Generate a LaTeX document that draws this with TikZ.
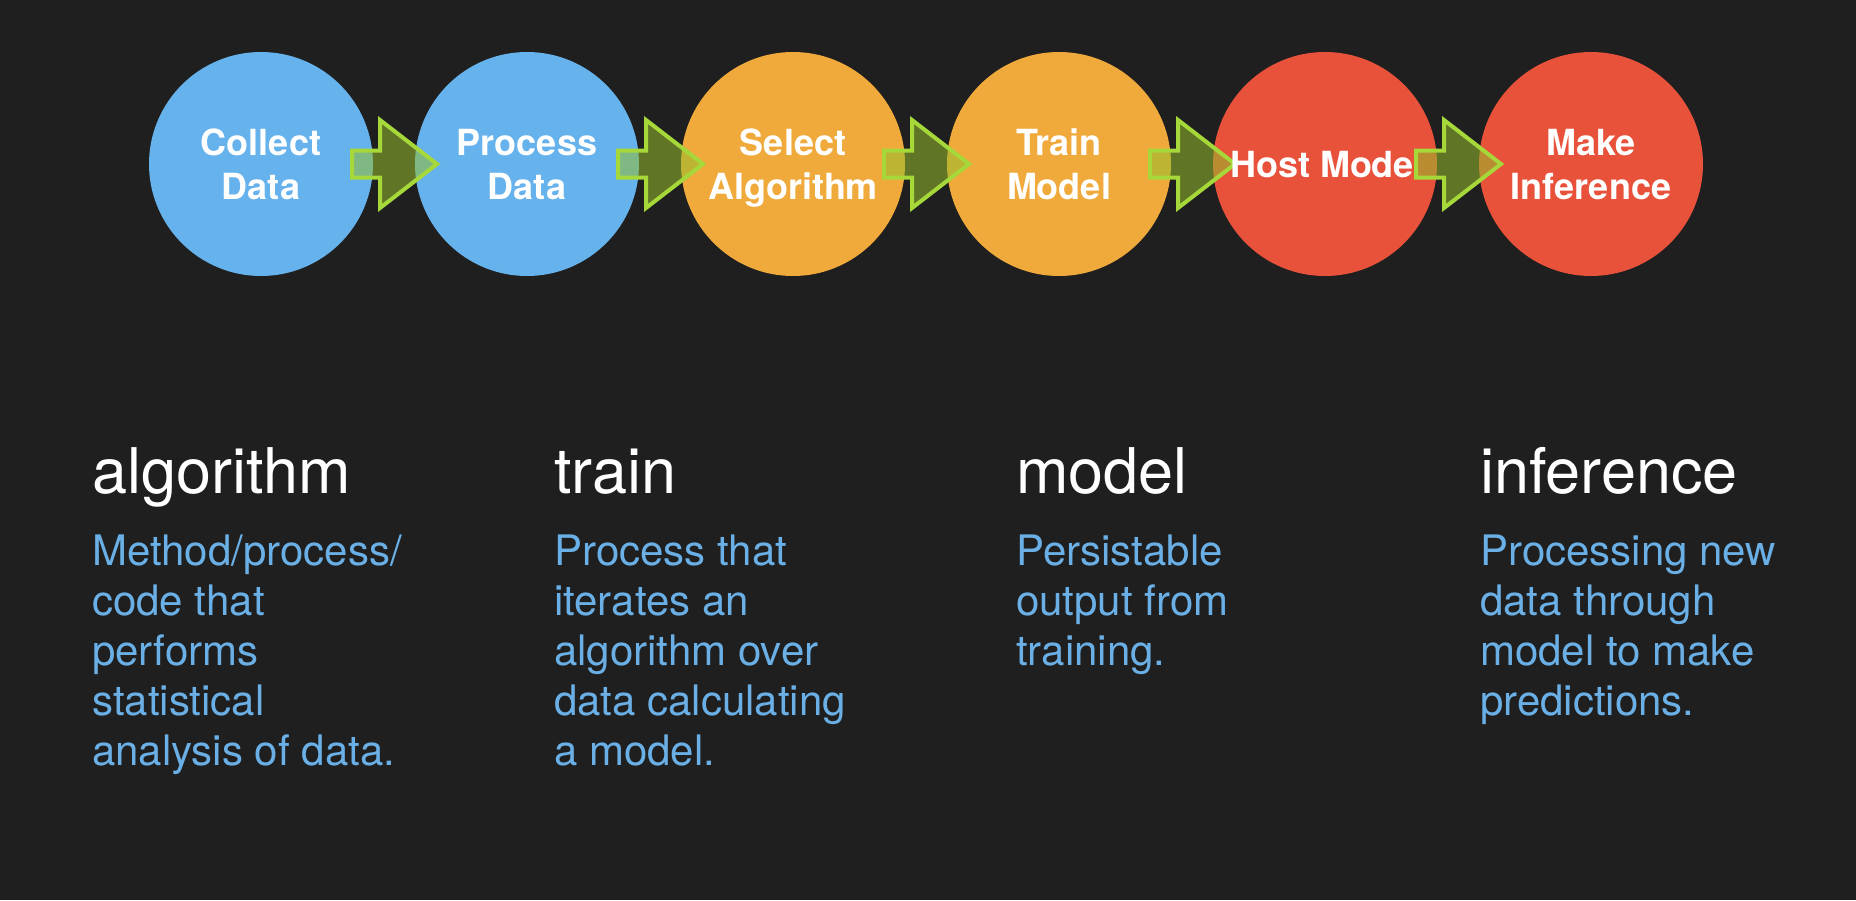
\documentclass[tikz,border=0pt]{standalone}
\usepackage{fontspec}
\setmainfont{TeX Gyre Heros}
\definecolor{bgc}{RGB}{31,31,31}
\definecolor{cblue}{RGB}{102,178,236}
\definecolor{corange}{RGB}{240,170,60}
\definecolor{cred}{RGB}{232,81,58}
\definecolor{lime}{RGB}{166,216,58}
\definecolor{limefill}{RGB}{150,190,45}
\definecolor{dblue}{RGB}{106,176,230}
\tikzset{
  circ/.style={circle, minimum size=224pt, inner sep=0pt, draw=none},
  clabel/.style={anchor=base, inner sep=0pt, text=white, font=\bfseries\fontsize{36}{44}\selectfont},
  fatarr/.style={draw=lime, line width=4pt, line join=miter, fill=limefill, fill opacity=0.55},
  head/.style={anchor=base west, inner sep=0pt, text=white, font=\fontsize{63}{70}\selectfont},
  desc/.style={anchor=base west, inner sep=0pt, text=dblue, font=\fontsize{42}{50}\selectfont}
}
\begin{document}
\begin{tikzpicture}[x=1pt,y=-1pt]
\fill[bgc] (0,0) rectangle (1856,900);
\useasboundingbox (0,0) rectangle (1856,900);

\node[circ, fill=cblue]   (c1) at (261,164) {};
\node[circ, fill=cblue]   (c2) at (527,164) {};
\node[circ, fill=corange] (c3) at (793,164) {};
\node[circ, fill=corange] (c4) at (1059,164) {};
\node[circ, fill=cred]    (c5) at (1325,164) {};
\node[circ, fill=cred]    (c6) at (1591,164) {};

\foreach \i in {1,...,5} {
  \draw[fatarr, shift={(c\i.center)}] (91,-13.5) -- (119,-13.5) -- (119,-44) -- (176,0) -- (119,44) -- (119,13.5) -- (91,13.5) -- cycle;
}

\node[clabel] (l1a) at (261,155) {Collect};
\node[clabel] (l1b) at (261,199) {Data};
\node[clabel] (l2a) at (527,155) {Process};
\node[clabel] (l2b) at (527,199) {Data};
\node[clabel] (l3a) at (793,155) {Select};
\node[clabel] (l3b) at (793,199) {Algorithm};
\node[clabel] (l4a) at (1059,155) {Train};
\node[clabel] (l4b) at (1059,199) {Model};
\node[clabel] (l5a) at (1322,177) {Host Mode};
\node[clabel] (l6a) at (1591,155) {Make};
\node[clabel] (l6b) at (1591,199) {Inference};

\node[head] (h1) at (92,493) {algorithm};
\node[head] (h2) at (554,493) {train};
\node[head] (h3) at (1016,493) {model};
\node[head] (h4) at (1480,493) {inference};

\foreach \t [count=\k] in {Method/process/, code that, performs, statistical, analysis of data.}
  \node[desc] (da\k) at (92,565+50*\k-50) {\t};
\foreach \t [count=\k] in {Process that, iterates an, algorithm over, data calculating, a model.}
  \node[desc] (db\k) at (554,565+50*\k-50) {\t};
\foreach \t [count=\k] in {Persistable, output from, training.}
  \node[desc] (dc\k) at (1016,565+50*\k-50) {\t};
\foreach \t [count=\k] in {Processing new, data through, model to make, predictions.}
  \node[desc] (dd\k) at (1480,565+50*\k-50) {\t};
\end{tikzpicture}
\end{document}
